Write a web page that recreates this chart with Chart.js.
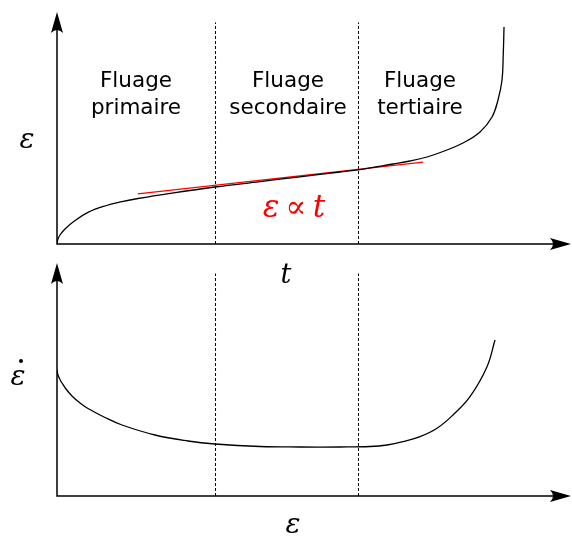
<!DOCTYPE html>
<html>
<head>
<meta charset="utf-8">
<script src="https://cdn.jsdelivr.net/npm/chart.js@4"></script>
<style>
  body { margin: 0; background: #fff; }
  canvas { position: absolute; left: 0; top: 0; }
</style>
</head>
<body>
<canvas id="strainChart" width="572" height="538"></canvas>
<canvas id="rateChart" width="572" height="538"></canvas>
<script>
// ------ data (arbitrary units, 0..100 on both axes)
const strainTime = [0, 0.19, 0.58, 1.55, 3.5, 6.02, 9.32, 12.62, 15.73, 22.33, 30.68, 39.42, 47.18, 54.95, 58.83, 65.24, 68.54, 71.84, 74.95, 78.83, 82.14, 84.47, 85.63, 86.41, 86.66, 86.8];
const strainValue = [0, 2.16, 3.88, 6.47, 10.13, 13.62, 16.38, 18.23, 19.61, 21.94, 24.57, 26.9, 28.97, 31.03, 32.07, 34.48, 35.78, 37.5, 39.87, 43.53, 48.28, 54.74, 62.07, 70.69, 82.33, 93.53];

const tangentTime = [15.7, 71.1];
const tangentValue = [21.6, 35.3];

const rateStrain = [0, 0.19, 0.58, 0.97, 1.75, 2.91, 4.47, 6.02, 9.32, 12.62, 19.03, 25.44, 30.68, 39.42, 47.18, 54.95, 60.78, 64.08, 67.18, 70.49, 73.79, 76.89, 80.19, 83.5, 85.05];
const rateValue = [54.08, 51.93, 50.0, 48.5, 45.92, 42.92, 39.91, 37.55, 33.69, 30.47, 26.18, 23.61, 22.32, 21.24, 21.03, 21.03, 21.24, 21.89, 23.3, 25.45, 29.06, 34.76, 42.62, 55.49, 66.95];

const phaseBounds = [30.78, 58.54];
const phaseTop = 95.5;
const phaseNames = [["Fluage", "primaire"], ["Fluage", "secondaire"], ["Fluage", "tertiaire"]];

function pts(xs, ys) {
  return xs.map((x, i) => ({ x: x, y: ys[i] }));
}

function boundSets() {
  return phaseBounds.map((b) => ({
    data: [{ x: b, y: 0 }, { x: b, y: phaseTop }],
    borderColor: "#000",
    borderWidth: 1,
    borderDash: [3, 2],
    pointRadius: 0,
    tension: 0,
  }));
}

// arrow head, tip at (x, y), pointing up or right
function arrowHead(ctx, x, y, dir) {
  ctx.beginPath();
  if (dir === "up") {
    ctx.moveTo(x, y);
    ctx.lineTo(x - 6, y + 21);
    ctx.quadraticCurveTo(x, y + 15, x + 6, y + 21);
  } else {
    ctx.moveTo(x, y);
    ctx.lineTo(x - 21, y - 6);
    ctx.quadraticCurveTo(x - 15, y, x - 21, y + 6);
  }
  ctx.closePath();
  ctx.fill();
}

const decor = {
  id: "decor",
  afterDatasetsDraw(chart, args, opts) {
    const ctx = chart.ctx;
    const a = chart.chartArea;
    ctx.save();
    ctx.strokeStyle = "#000";
    ctx.fillStyle = "#000";
    ctx.lineWidth = 1.5;
    ctx.beginPath();
    ctx.moveTo(a.left, a.top + 10);
    ctx.lineTo(a.left, a.bottom);
    ctx.lineTo(a.right - 10, a.bottom);
    ctx.stroke();
    arrowHead(ctx, a.left, a.top, "up");
    arrowHead(ctx, a.right - 1, a.bottom, "right");

    ctx.textAlign = "center";
    (opts.texts || []).forEach((t) => {
      ctx.font = t.font;
      ctx.textBaseline = t.baseline || "middle";
      ctx.fillStyle = t.color || "#000";
      ctx.fillText(t.text, t.x, t.y);
    });
    (opts.dots || []).forEach((d) => {
      ctx.beginPath();
      ctx.arc(d.x, d.y, 2, 0, Math.PI * 2);
      ctx.fillStyle = "#000";
      ctx.fill();
    });
    ctx.restore();
  },
};

function baseOptions(padding, texts, dots) {
  return {
    responsive: false,
    animation: false,
    layout: { padding: padding },
    elements: { line: { tension: 0.4, capBezierPoints: false } },
    scales: {
      x: { type: "linear", min: 0, max: 100, display: false },
      y: { type: "linear", min: 0, max: 100, display: false },
    },
    plugins: {
      legend: { display: false },
      tooltip: { enabled: false },
      decor: { texts: texts, dots: dots },
    },
  };
}

const sansFont = "21.5px 'DejaVu Sans'";
const mathFont = "italic 28px 'DejaVu Serif'";
const phaseX = [136, 288, 420];
const phaseTexts = [];
phaseNames.forEach((lines, i) => {
  phaseTexts.push({ text: lines[0], x: phaseX[i], y: 87, font: sansFont, baseline: "alphabetic" });
  phaseTexts.push({ text: lines[1], x: phaseX[i], y: 114, font: sansFont, baseline: "alphabetic" });
});

const strainCtx = document.getElementById("strainChart").getContext("2d");
const strainChart = new Chart(strainCtx, {
  type: "line",
  data: {
    datasets: [
      {
        data: pts(strainTime, strainValue),
        borderColor: "#000",
        borderWidth: 1.3,
        pointRadius: 0,
      },
      {
        data: pts(tangentTime, tangentValue),
        borderColor: "#f00",
        borderWidth: 1.3,
        pointRadius: 0,
        tension: 0,
      },
    ].concat(boundSets()),
  },
  options: baseOptions(
    { left: 57, right: 0, top: 12, bottom: 294 },
    phaseTexts.concat([
      { text: "ε", x: 27, y: 141, font: mathFont },
      { text: "t", x: 286, y: 276, font: "italic 27px 'DejaVu Serif'" },
      { text: "ε\u2009∝\u2009t", x: 294, y: 209, font: "italic 31px 'DejaVu Serif'", color: "#f00" },
    ]),
    []
  ),
  plugins: [decor],
});

const rateCtx = document.getElementById("rateChart").getContext("2d");
const rateChart = new Chart(rateCtx, {
  type: "line",
  data: {
    datasets: [
      {
        data: pts(rateStrain, rateValue),
        borderColor: "#000",
        borderWidth: 1.3,
        pointRadius: 0,
      },
    ].concat(boundSets()),
  },
  options: baseOptions(
    { left: 57, right: 0, top: 263, bottom: 42 },
    [
      { text: "ε", x: 18, y: 378, font: mathFont },
      { text: "ε", x: 293, y: 526, font: mathFont },
    ],
    [{ x: 21, y: 361 }]
  ),
  plugins: [decor],
});
</script>
</body>
</html>
